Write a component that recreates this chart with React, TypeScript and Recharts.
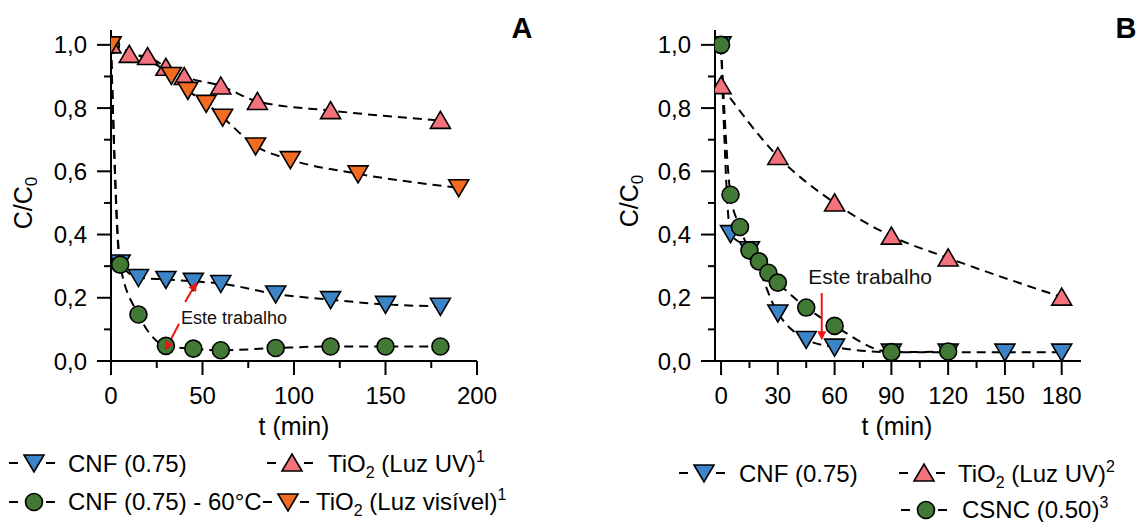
import React from 'react';
import { LineChart, Line, XAxis, YAxis, ReferenceLine, ReferenceDot } from 'recharts';

const FONT = '"Liberation Sans", Arial, Helvetica, sans-serif';

// ---------- Panel A data ----------
const cnfA_t = [0, 5, 15, 30, 45, 60, 90, 120, 150, 180];
const cnfA_v = [1.0, 0.31, 0.264, 0.258, 0.252, 0.245, 0.212, 0.194, 0.179, 0.173];
const cnf60A_t = [0, 5, 15, 30, 45, 60, 90, 120, 150, 180];
const cnf60A_v = [1.0, 0.305, 0.147, 0.048, 0.039, 0.034, 0.041, 0.046, 0.046, 0.046];
const tioUvA_t = [0, 10, 20, 30, 40, 60, 80, 120, 180];
const tioUvA_v = [1.0, 0.97, 0.963, 0.929, 0.9, 0.87, 0.821, 0.792, 0.761];
const tioVisA_t = [0, 33, 42, 52, 61, 79, 98, 135, 190];
const tioVisA_v = [1.0, 0.903, 0.856, 0.815, 0.771, 0.68, 0.637, 0.592, 0.548];

// ---------- Panel B data ----------
const cnfB_t = [0, 5, 15, 30, 45, 60, 90, 120, 150, 180];
const cnfB_v = [1.0, 0.403, 0.352, 0.152, 0.068, 0.044, 0.028, 0.028, 0.028, 0.028];
const tioUvB_t = [0, 30, 60, 90, 120, 180];
const tioUvB_v = [0.871, 0.647, 0.5, 0.395, 0.326, 0.202];
const csncB_t = [0, 5, 10, 15, 20, 25, 30, 45, 60, 90, 120];
const csncB_v = [1.0, 0.526, 0.424, 0.35, 0.315, 0.279, 0.248, 0.169, 0.111, 0.028, 0.03];

// ---------- ticks ----------
const xTicksA = [0, 25, 50, 75, 100, 125, 150, 175, 200];
const xLabelStepA = 50;
const xTicksB = [0, 15, 30, 45, 60, 75, 90, 105, 120, 135, 150, 165, 180];
const xLabelStepB = 30;
const yTicks = [0, 0.1, 0.2, 0.3, 0.4, 0.5, 0.6, 0.7, 0.8, 0.9, 1.0];

// ---------- annotation anchors (data coords): tail -> head ----------
const annoA_text = { t: 38.2, v: 0.118 };
const annoA_arrow1_t = [40.5, 46.9];
const annoA_arrow1_v = [0.187, 0.25];
const annoA_arrow2_t = [37.2, 29.6];
const annoA_arrow2_v = [0.118, 0.034];
const annoB_text = { t: 46.1, v: 0.245 };
const annoB_arrow = [{ x: 53.2, y: 0.215 }, { x: 53.2, y: 0.066 }];

const COLORS = {
  blue: '#3b84c8',
  green: '#427a35',
  pink: '#f4727b',
  orange: '#f26b21',
  red: '#f01414',
};

const toPts = (t: number[], v: number[]) => t.map((x, i) => ({ t: x, v: v[i] }));

type Kind = 'down' | 'up' | 'circle';

const Marker = ({ cx, cy, kind, fill }: { cx: number; cy: number; kind: Kind; fill: string }) => {
  if (cx == null || cy == null || isNaN(cx) || isNaN(cy)) return null;
  if (kind === 'circle') {
    return <circle cx={cx} cy={cy} r={8.5} fill={fill} stroke="#000" strokeWidth={1.6} />;
  }
  const pts =
    kind === 'down'
      ? `${cx - 10},${cy - 8} ${cx + 10},${cy - 8} ${cx},${cy + 9}`
      : `${cx - 10},${cy + 8} ${cx + 10},${cy + 8} ${cx},${cy - 9}`;
  return <polygon points={pts} fill={fill} stroke="#000" strokeWidth={1.6} strokeLinejoin="miter" />;
};

const dotFn = (kind: Kind, fill: string) => (p: any) => (
  <Marker key={`d-${p.index}`} cx={p.cx} cy={p.cy} kind={kind} fill={fill} />
);

const YTick = (p: any) => {
  const { x, y, payload } = p;
  const v = payload.value as number;
  const major = Math.round(v * 10) % 2 === 0;
  return (
    <g>
      <line x1={x - (major ? 14 : 7)} x2={x} y1={y} y2={y} stroke="#000" strokeWidth={2} />
      {major && (
        <text x={x - 24} y={y} dy="0.36em" textAnchor="end" fontSize={24} fontFamily={FONT} fill="#000">
          {v.toFixed(1).replace('.', ',')}
        </text>
      )}
    </g>
  );
};

const XTick = (p: any, step: number) => {
  const { x, y, payload } = p;
  const v = payload.value as number;
  const major = v % step === 0;
  return (
    <g>
      <line x1={x} x2={x} y1={y} y2={y + (major ? 14 : 7)} stroke="#000" strokeWidth={2} />
      {major && (
        <text x={x} y={y + 43} textAnchor="middle" fontSize={24} fontFamily={FONT} fill="#000">
          {v}
        </text>
      )}
    </g>
  );
};

const arrowHead = (x1: number, y1: number, x2: number, y2: number) => {
  const dx = x2 - x1;
  const dy = y2 - y1;
  const len = Math.sqrt(dx * dx + dy * dy) || 1;
  const ux = dx / len;
  const uy = dy / len;
  const hl = 9;
  const hw = 4.5;
  const bx = x2 - ux * hl;
  const by = y2 - uy * hl;
  return `${x2},${y2} ${bx - uy * hw},${by + ux * hw} ${bx + uy * hw},${by - ux * hw}`;
};

// ReferenceLine shape (head at 2nd point)
const lineArrow = (p: any) => {
  const { x1, y1, x2, y2 } = p;
  return (
    <g>
      <line x1={x1} y1={y1} x2={x2} y2={y2 - 6} stroke={COLORS.red} strokeWidth={2} />
      <polygon points={arrowHead(x1, y1, x2, y2)} fill={COLORS.red} />
    </g>
  );
};

// Dot renderer for a 2-point red Line: draws the head at the last point
const makeArrowDot = () => {
  let prev: { x: number; y: number } | null = null;
  return (p: any) => {
    if (p.index === 0) {
      prev = { x: p.cx, y: p.cy };
      return <g key={`a-${p.index}`} />;
    }
    const from = prev || { x: p.cx - 1, y: p.cy };
    return <polygon key={`a-${p.index}`} points={arrowHead(from.x, from.y, p.cx, p.cy)} fill={COLORS.red} />;
  };
};

const textShape = (size: number) => (p: any) => (
  <text x={p.cx} y={p.cy} fontSize={size} fontFamily={FONT} fill="#111">
    Este trabalho
  </text>
);

const lineCommon = {
  type: 'monotone' as const,
  dataKey: 'v',
  stroke: '#000',
  strokeWidth: 2,
  strokeDasharray: '9 6',
  isAnimationActive: false,
  activeDot: false as const,
};

const arrowLineCommon = {
  type: 'linear' as const,
  dataKey: 'v',
  stroke: COLORS.red,
  strokeWidth: 2,
  isAnimationActive: false,
  activeDot: false as const,
  legendType: 'none' as const,
};

const frameAxisLine = { stroke: '#000', strokeWidth: 2 };

const ChartA = () => (
  <LineChart width={560} height={522} margin={{ top: 30, right: 83, bottom: 71, left: 0 }}>
    <XAxis
      type="number"
      dataKey="t"
      domain={[0, 200]}
      allowDataOverflow
      ticks={xTicksA}
      interval={0}
      tickSize={0}
      tickMargin={0}
      tickLine={false}
      tick={(p: any) => XTick(p, xLabelStepA)}
      axisLine={frameAxisLine}
      height={90}
    />
    <XAxis xAxisId="top" orientation="top" type="number" domain={[0, 200]} height={0} tick={false} tickLine={false} axisLine={frameAxisLine} />
    <YAxis
      type="number"
      domain={[0, 1.047]}
      allowDataOverflow
      ticks={yTicks}
      interval={0}
      tickSize={0}
      tickMargin={0}
      tickLine={false}
      tick={YTick}
      axisLine={frameAxisLine}
      width={111}
    />
    <YAxis yAxisId="right" orientation="right" type="number" domain={[0, 1.047]} width={0} tick={false} tickLine={false} axisLine={frameAxisLine} />
    <Line {...lineCommon} data={toPts(cnfA_t, cnfA_v)} dot={dotFn('down', COLORS.blue)} />
    <Line {...lineCommon} data={toPts(cnf60A_t, cnf60A_v)} dot={dotFn('circle', COLORS.green)} />
    <Line {...lineCommon} data={toPts(tioUvA_t, tioUvA_v)} dot={dotFn('up', COLORS.pink)} />
    <Line {...lineCommon} data={toPts(tioVisA_t, tioVisA_v)} dot={dotFn('down', COLORS.orange)} />
    <Line {...arrowLineCommon} data={toPts(annoA_arrow1_t, annoA_arrow1_v)} dot={makeArrowDot()} />
    <Line {...arrowLineCommon} data={toPts(annoA_arrow2_t, annoA_arrow2_v)} dot={makeArrowDot()} />
    <ReferenceDot x={annoA_text.t} y={annoA_text.v} r={1} shape={textShape(18)} />
  </LineChart>
);

const ChartB = () => (
  <LineChart width={558} height={522} margin={{ top: 30, right: 57, bottom: 71, left: 0 }}>
    <XAxis
      type="number"
      dataKey="t"
      domain={[-3.2, 190.2]}
      allowDataOverflow
      ticks={xTicksB}
      interval={0}
      tickSize={0}
      tickMargin={0}
      tickLine={false}
      tick={(p: any) => XTick(p, xLabelStepB)}
      axisLine={frameAxisLine}
      height={90}
    />
    <XAxis xAxisId="top" orientation="top" type="number" domain={[-3.2, 190.2]} height={0} tick={false} tickLine={false} axisLine={frameAxisLine} />
    <YAxis
      type="number"
      domain={[0, 1.047]}
      allowDataOverflow
      ticks={yTicks}
      interval={0}
      tickSize={0}
      tickMargin={0}
      tickLine={false}
      tick={YTick}
      axisLine={frameAxisLine}
      width={135}
    />
    <YAxis yAxisId="right" orientation="right" type="number" domain={[0, 1.047]} width={0} tick={false} tickLine={false} axisLine={frameAxisLine} />
    <Line {...lineCommon} data={toPts(tioUvB_t, tioUvB_v)} dot={dotFn('up', COLORS.pink)} />
    <Line {...lineCommon} data={toPts(cnfB_t, cnfB_v)} dot={dotFn('down', COLORS.blue)} />
    <Line {...lineCommon} data={toPts(csncB_t, csncB_v)} dot={dotFn('circle', COLORS.green)} />
    <ReferenceLine segment={annoB_arrow} shape={lineArrow} ifOverflow="visible" />
    <ReferenceDot x={annoB_text.t} y={annoB_text.v} r={1} shape={textShape(21)} />
  </LineChart>
);

const LegendIcon = ({ cx, cy, kind, fill }: { cx: number; cy: number; kind: Kind; fill: string }) => (
  <g>
    <line x1={cx - 25} x2={cx - 16} y1={cy} y2={cy} stroke="#000" strokeWidth={2} />
    <line x1={cx + 12} x2={cx + 21} y1={cy} y2={cy} stroke="#000" strokeWidth={2} />
    <Marker cx={cx} cy={cy} kind={kind} fill={fill} />
  </g>
);

const TiO2 = ({ x, y, rest, sup }: { x: number; y: number; rest: string; sup: string }) => (
  <text x={x} y={y} fontSize={24} fontFamily={FONT} fill="#000">
    <tspan>TiO</tspan>
    <tspan fontSize={16} dy={6}>2</tspan>
    <tspan dy={-6}>{rest}</tspan>
    <tspan fontSize={16} dy={-10}>{sup}</tspan>
  </text>
);

const Overlay = () => (
  <svg width={1138} height={522} style={{ position: 'absolute', left: 0, top: 0, pointerEvents: 'none' }}>
    {/* panel letters */}
    <text x={522} y={38} textAnchor="middle" fontSize={29} fontWeight="bold" fontFamily={FONT}>A</text>
    <text x={1126} y={38} textAnchor="middle" fontSize={29} fontWeight="bold" fontFamily={FONT}>B</text>
    {/* axis titles */}
    <text x={31.5} y={203} transform="rotate(-90 31.5 203)" textAnchor="middle" fontSize={25} fontFamily={FONT}>
      <tspan>C/C</tspan>
      <tspan fontSize={17} dy={5}>0</tspan>
    </text>
    <text x={638} y={201} transform="rotate(-90 638 201)" textAnchor="middle" fontSize={25} fontFamily={FONT}>
      <tspan>C/C</tspan>
      <tspan fontSize={17} dy={5}>0</tspan>
    </text>
    <text x={294} y={435} textAnchor="middle" fontSize={25} fontFamily={FONT}>t (min)</text>
    <text x={897} y={435} textAnchor="middle" fontSize={25} fontFamily={FONT}>t (min)</text>

    {/* legend A */}
    <LegendIcon cx={34} cy={463} kind="down" fill={COLORS.blue} />
    <text x={68} y={471.5} fontSize={24} fontFamily={FONT}>CNF (0.75)</text>
    <LegendIcon cx={292} cy={463} kind="up" fill={COLORS.pink} />
    <TiO2 x={328} y={471.5} rest=" (Luz UV)" sup="1" />
    <LegendIcon cx={34} cy={502} kind="circle" fill={COLORS.green} />
    <text x={68} y={510} fontSize={24} fontFamily={FONT}>CNF (0.75) - 60°C</text>
    <LegendIcon cx={288} cy={502} kind="down" fill={COLORS.orange} />
    <TiO2 x={316} y={510} rest=" (Luz visível)" sup="1" />

    {/* legend B */}
    <LegendIcon cx={704} cy={473} kind="down" fill={COLORS.blue} />
    <text x={739} y={481.7} fontSize={24} fontFamily={FONT}>CNF (0.75)</text>
    <LegendIcon cx={924} cy={473} kind="up" fill={COLORS.pink} />
    <TiO2 x={958} y={481.7} rest=" (Luz UV)" sup="2" />
    <LegendIcon cx={926} cy={510} kind="circle" fill={COLORS.green} />
    <text x={962} y={518} fontSize={24} fontFamily={FONT}>
      <tspan>CSNC (0.50)</tspan>
      <tspan fontSize={16} dy={-10}>3</tspan>
    </text>
  </svg>
);

export default function App() {
  return (
    <div style={{ position: 'absolute', left: 0, top: 0, width: 1138, height: 522, background: '#fff', overflow: 'hidden' }}>
      <div style={{ position: 'absolute', left: 0, top: 0 }}>
        <ChartA />
      </div>
      <div style={{ position: 'absolute', left: 580, top: 0 }}>
        <ChartB />
      </div>
      <Overlay />
    </div>
  );
}
